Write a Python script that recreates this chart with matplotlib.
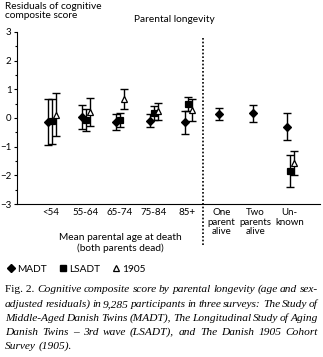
import numpy as np
import matplotlib
matplotlib.use("Agg")
import matplotlib.pyplot as plt
from matplotlib.lines import Line2D
from matplotlib.transforms import ScaledTranslation

# Residuals of cognitive composite score by parental longevity group
categories = ["<54", "55-64", "65-74", "75-84", "85+",
              "One\nparent\nalive", "Two\nparents\nalive", "Un-\nknown"]
madt_mean = [-0.13, 0.03, -0.14, -0.09, -0.15, 0.14, 0.16, -0.30]
madt_err = [0.81, 0.41, 0.28, 0.22, 0.40, 0.20, 0.30, 0.46]
lsadt_mean = [-0.12, -0.08, -0.08, 0.17, 0.49, np.nan, np.nan, -1.85]
lsadt_err = [0.80, 0.38, 0.25, 0.24, 0.25, np.nan, np.nan, 0.55]
c1905_mean = [0.11, 0.21, 0.67, 0.23, 0.28, np.nan, np.nan, -1.58]
c1905_err = [0.75, 0.50, 0.35, 0.31, 0.38, np.nan, np.nan, 0.42]

caption_lines = [
    [("Fig. 2.", "normal")] + [(w, "italic") for w in
        "Cognitive composite score by parental longevity (age and sex-".split()],
    [(w, "italic") for w in
        "adjusted residuals) in 9,285 participants in three surveys: The Study of".split()],
    [(w, "italic") for w in
        "Middle-Aged Danish Twins (MADT), The Longitudinal Study of Aging".split()],
    [(w, "italic") for w in
        "Danish Twins \u2013 3rd wave (LSADT), and The Danish 1905 Cohort".split()],
    [(w, "italic") for w in "Survey (1905).".split()],
]

W, H = 323, 357
plt.rcParams["font.family"] = ["Lato", "DejaVu Sans"]
fig = plt.figure(figsize=(W / 100, H / 100), dpi=100)
ax = fig.add_axes([17 / W, 1 - 204 / H, 303 / W, 172 / H])

x = np.arange(len(categories))
series = [
    (madt_mean, madt_err, -0.08, dict(marker="D", ms=4.3, mfc="black")),
    (lsadt_mean, lsadt_err, 0.03, dict(marker="s", ms=4.0, mfc="black")),
    (c1905_mean, c1905_err, 0.15, dict(marker="^", ms=4.8, mfc="white")),
]
for mean, err, off, style in series:
    ax.errorbar(x + off, mean, yerr=err, fmt="none", ecolor="black",
                elinewidth=1.0, capsize=2.8, capthick=1.0)
    ax.plot(x + off, mean, ls="none", mec="black", mew=0.9, **style)

# dotted separator between the two groups
ax.vlines(4.47, -4.42, 2.82, colors="black", linestyles=(0, (1.0, 1.2)),
          linewidth=1.2, clip_on=False)

ax.set_xlim(-1.0, 7.9)
ax.set_ylim(-3, 3)
ax.set_yticks(range(-3, 4))
ax.set_yticks(np.arange(-2.5, 3, 1.0), minor=True)
ax.set_xticks(x)
ax.set_xticklabels(categories, fontsize=7)
for lbl in ax.get_xticklabels():
    lbl.set_linespacing(1.05)
last = ax.get_xticklabels()[-1]
last.set_transform(last.get_transform() + ScaledTranslation(0.08, 0, fig.dpi_scale_trans))
ax.tick_params(axis="x", length=0, pad=3)
ax.tick_params(axis="y", which="major", length=2.5, width=0.8, labelsize=7, pad=1.5)
ax.tick_params(axis="y", which="minor", length=1.5, width=0.8)
for s in ("top", "right"):
    ax.spines[s].set_visible(False)
for s in ("left", "bottom"):
    ax.spines[s].set_linewidth(0.8)

fig.text(5 / W, 1 - 2 / H, "Residuals of cognitive\ncomposite score",
         ha="left", va="top", fontsize=7.3, linespacing=1.05)
fig.text(174 / W, 1 - 20 / H, "Parental longevity", ha="center", va="center",
         fontsize=7.3)
fig.text(120 / W, 1 - 243 / H, "Mean parental age at death\n(both parents dead)",
         ha="center", va="center", fontsize=7.3, linespacing=1.1)

handles = [Line2D([], [], ls="none", marker="D", ms=4.3, mfc="black", mec="black"),
           Line2D([], [], ls="none", marker="s", ms=4.0, mfc="black", mec="black"),
           Line2D([], [], ls="none", marker="^", ms=4.8, mfc="white", mec="black", mew=0.9)]
fig.legend(handles, ["MADT", "LSADT", "1905"], loc="center left",
           bbox_to_anchor=(0 / W, 1 - 269 / H), ncol=3, frameon=False,
           fontsize=7.3, handlelength=0.7, handletextpad=0.3,
           columnspacing=1.2, borderpad=0.2)

# justified caption, one text per word
renderer = fig.canvas.get_renderer()
x0, x1 = 5, 318
baselines = [292, 307, 321, 335, 349]
for i, (words, yb) in enumerate(zip(caption_lines, baselines)):
    texts = [fig.text(0, 1 - yb / H, w, fontstyle=s, fontsize=8.2,
                      family="Liberation Serif", va="baseline", ha="left")
             for w, s in words]
    widths = [t.get_window_extent(renderer).width for t in texts]
    if i < len(caption_lines) - 1:
        gap = (x1 - x0 - sum(widths)) / (len(words) - 1)
    else:
        gap = 2.5
    xp = x0
    for t, w in zip(texts, widths):
        t.set_x(xp / W)
        xp += w + gap

fig.savefig("out.png", dpi=100)
